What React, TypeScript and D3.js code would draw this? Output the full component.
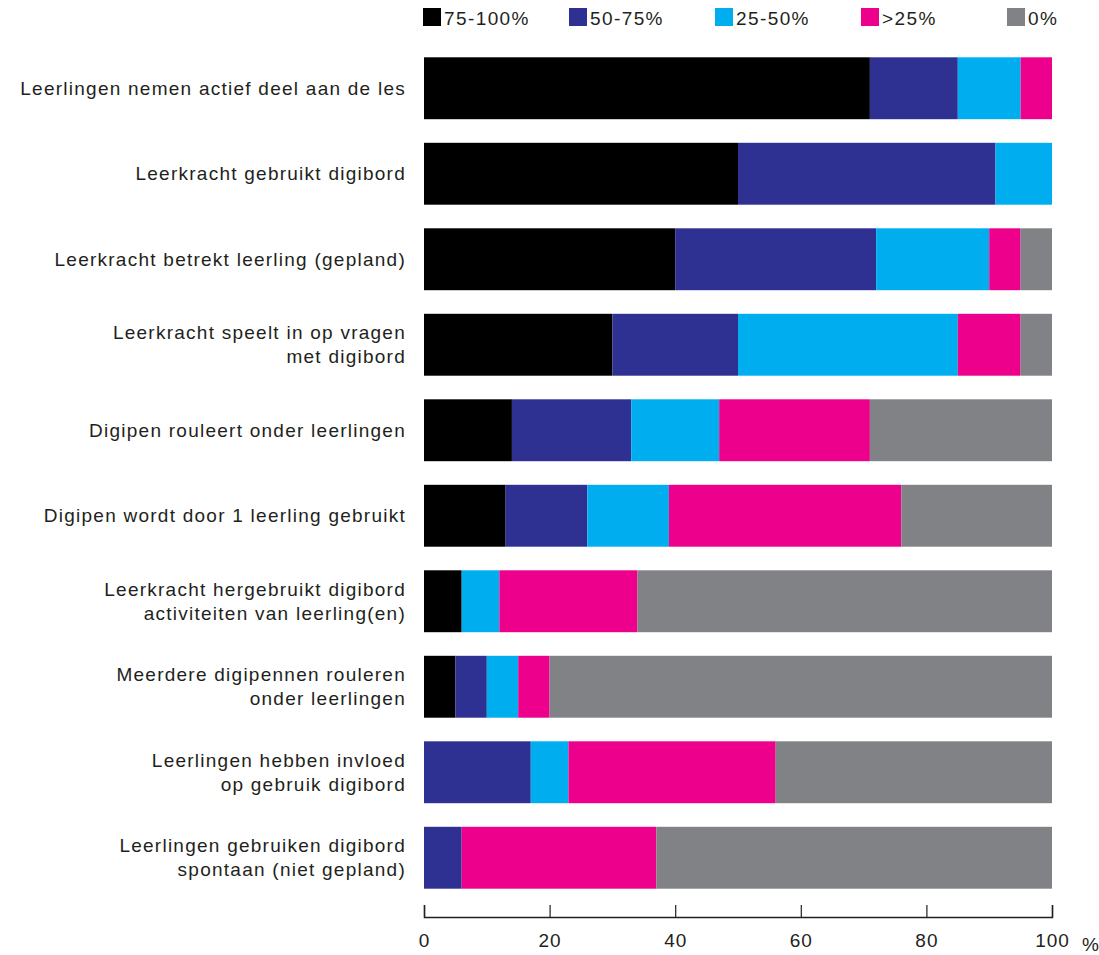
import * as React from 'react'
import * as d3 from 'd3'

const categories = [
    ['Leerlingen nemen actief deel aan de les'],
    ['Leerkracht gebruikt digibord'],
    ['Leerkracht betrekt leerling (gepland)'],
    ['Leerkracht speelt in op vragen', 'met digibord'],
    ['Digipen rouleert onder leerlingen'],
    ['Digipen wordt door 1 leerling gebruikt'],
    ['Leerkracht hergebruikt digibord', 'activiteiten van leerling(en)'],
    ['Meerdere digipennen rouleren', 'onder leerlingen'],
    ['Leerlingen hebben invloed', 'op gebruik digibord'],
    ['Leerlingen gebruiken digibord', 'spontaan (niet gepland)'],
]

const seriesNames = ['75-100%', '50-75%', '25-50%', '>25%', '0%']
const seriesColors = ['#000000', '#2e3192', '#00aeef', '#ec008c', '#808285']

const s75_100 = [71, 50, 40, 30, 14, 13, 6, 5, 0, 0]
const s50_75 = [14, 41, 32, 20, 19, 13, 0, 5, 17, 6]
const s25_50 = [10, 9, 18, 35, 14, 13, 6, 5, 6, 0]
const sLess25 = [5, 0, 5, 10, 24, 37, 22, 5, 33, 31]
const s0 = [0, 0, 5, 5, 29, 24, 66, 80, 44, 63]

const xTicks = [0, 20, 40, 60, 80, 100]

const FONT = '"Liberation Sans", Arial, sans-serif'

export default function App() {
    const width = 1099
    const height = 955
    const axisRef = React.useRef<SVGGElement>(null)

    const x = d3.scaleLinear().domain([0, 100]).range([424, 1052])
    const y = d3.scaleBand<number>()
        .domain(d3.range(categories.length))
        .range([45.5, 900.5])
        .paddingInner(0.276)
        .paddingOuter(0.138)

    const rows = categories.map((c, i) => ({
        i,
        v: [s75_100[i], s50_75[i], s25_50[i], sLess25[i], s0[i]],
    }))
    const stack = d3.stack<any>().keys([0, 1, 2, 3, 4] as any).value((d, k) => d.v[k as any])
    const layers = stack(rows)

    React.useEffect(() => {
        if (!axisRef.current) return
        const g = d3.select(axisRef.current)
        g.call(d3.axisBottom(x).tickValues(xTicks).tickSize(-12).tickPadding(17))
        g.select('.domain').attr('stroke', '#231f20').attr('stroke-width', 1.5)
        g.selectAll('.tick line').attr('stroke', '#231f20').attr('stroke-width', 1.2)
        g.selectAll('.tick text')
            .attr('font-family', FONT)
            .attr('font-size', 19)
            .attr('fill', '#231f20')
            .attr('letter-spacing', 1)
    }, [])

    return <svg width={width} height={height} style={{position: 'absolute', left: 0, top: 0}}>
        <rect width={width} height={height} fill='#fff' />
        {/* legend */}
        <g>
            {seriesNames.map((name, k) => (
                <g key={name} transform={`translate(${423 + k * 146}, 8)`}>
                    <rect width={18} height={18} fill={seriesColors[k]} />
                    <text x={21} y={17} fontFamily={FONT} fontSize={19} letterSpacing={1.4} fill='#231f20'>{name}</text>
                </g>
            ))}
        </g>
        {/* bars */}
        {layers.map((layer, k) => (
            <g key={k} fill={seriesColors[k]}>
                {layer.map((d, i) => d[1] - d[0] > 0 ? (
                    <rect key={i}
                        x={x(d[0])}
                        y={y(i)}
                        width={x(d[1]) - x(d[0])}
                        height={y.bandwidth()} />
                ) : null)}
            </g>
        ))}
        {/* category labels */}
        {categories.map((lines, i) => {
            const cy = (y(i) as number) + y.bandwidth() / 2
            const lh = 24
            const top = cy - (lines.length - 1) * lh / 2
            return <text key={i} textAnchor='end' fontFamily={FONT} fontSize={19} letterSpacing={1.25} fill='#231f20'>
                {lines.map((l, j) => (
                    <tspan key={j} x={406} y={top + j * lh} dy='0.35em'>{l}</tspan>
                ))}
            </text>
        })}
        <g ref={axisRef} transform='translate(0, 917)' />
        <text x={1082} y={951} fontFamily={FONT} fontSize={19} fill='#231f20'>%</text>
    </svg>
}
